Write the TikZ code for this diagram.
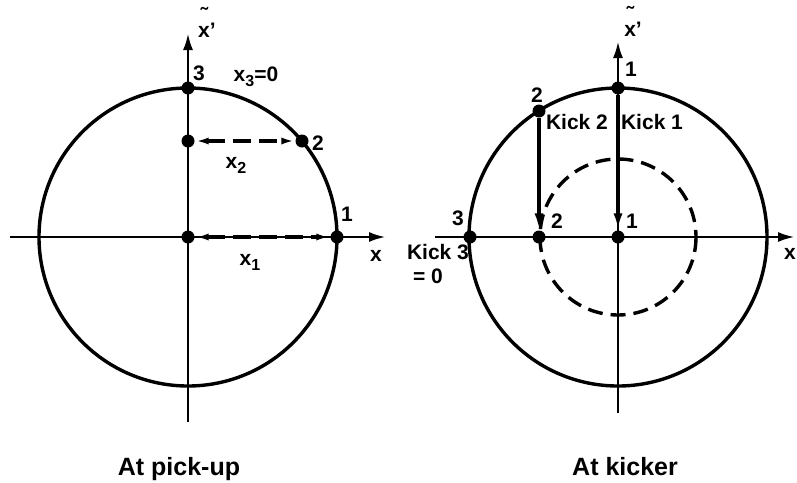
\documentclass[tikz,border=0pt]{standalone}
\usepackage{fontspec}
\setmainfont{Liberation Sans}
\usetikzlibrary{arrows.meta}
\newcommand\lowsub[1]{\raisebox{-5pt}{\fontsize{16}{16}\selectfont\bfseries #1}}
\newcommand\tildex{\shortstack{˜\\x}'}
\begin{document}
\begin{tikzpicture}[x=1pt,y=-1pt,
  dot/.style={circle,fill=black,inner sep=0pt,minimum size=13pt},
  lbl/.style={font=\fontsize{21}{21}\selectfont\bfseries,inner sep=0pt},
  caption/.style={font=\fontsize{25}{25}\selectfont\bfseries,inner sep=0pt,anchor=base},
  axis/.style={line width=2.8pt,-{Latex[length=17pt,width=10pt]}},
  ring/.style={line width=3.4pt},
  dring/.style={line width=3.4pt,dash pattern=on 15pt off 8pt},
  kick/.style={line width=3.4pt,-{Latex[length=17pt,width=9pt]}},
  meas/.style={line width=3.4pt,dash pattern=on 18pt off 8pt,
    {Latex[length=14pt,width=7pt]}-{Latex[length=14pt,width=7pt]}},
]
\useasboundingbox (0,0) rectangle (797,482);
% ---------- left: at pick-up ----------
\coordinate (LO) at (188,237);
\draw[ring] (LO) circle (149);
\coordinate (Lxs) at (10,237);
\coordinate (Lxe) at (386,237);
\coordinate (Lys) at (188,422);
\coordinate (Lye) at (188,33);
\draw[axis] (Lxs) -- (Lxe);
\draw[axis] (Lys) -- (Lye);
\node[dot] (L0) at (188,237) {};
\node[dot] (L1) at (337,237) {};
\node[dot] (L3) at (188,88) {};
\node[dot] (L2) at (302,141) {};
\node[dot] (L2a) at (188,141) {};
\draw[meas] (L0) -- (L1);
\draw[meas] (L2a) -- (L2);
\node[lbl,anchor=base] (lxl) at (207,37) {\tildex};
\node[lbl] (l3) at (199,73) {3};
\node[lbl] (lx3) at (256,77) {x\lowsub{3}=0};
\node[lbl] (l2) at (318,143) {2};
\node[lbl] (lx2) at (236,165) {x\lowsub{2}};
\node[lbl] (l1) at (347,214) {1};
\node[lbl] (lx) at (376,256) {x};
\node[lbl] (lx1) at (250,262) {x\lowsub{1}};
\node[caption] (capL) at (179,475) {At pick-up};
% ---------- right: at kicker ----------
\coordinate (RO) at (618,237);
\draw[ring] (RO) circle (149);
\draw[dring] (RO) circle (78);
\coordinate (Rxs) at (435,237);
\coordinate (Rxe) at (795,237);
\coordinate (Rys) at (618,413);
\coordinate (Rye) at (618,41);
\draw[axis] (Rxs) -- (Rxe);
\draw[axis] (Rys) -- (Rye);
\node[dot] (R1) at (618,88) {};
\node[dot] (R2) at (539,111) {};
\node[dot] (R3) at (470,237) {};
\node[dot] (R1b) at (618,237) {};
\node[dot] (R2b) at (539,237) {};
\draw[kick] (R1) -- (R1b);
\draw[kick] (R2) -- (R2b);
\node[lbl,anchor=base] (rxl) at (633,36) {\tildex};
\node[lbl] (r1) at (631,69) {1};
\node[lbl] (r2) at (537,95) {2};
\node[lbl] (rk2) at (577,122) {Kick 2};
\node[lbl] (rk1) at (652,122) {Kick 1};
\node[lbl] (r3) at (458,218) {3};
\node[lbl] (rk3) at (438,252) {Kick 3};
\node[lbl] (rk3b) at (428,276) {= 0};
\node[lbl] (r2b) at (557,221) {2};
\node[lbl] (r1b) at (632,221) {1};
\node[lbl] (rx) at (790,254) {x};
\node[caption] (capR) at (625,475) {At kicker};
\end{tikzpicture}
\end{document}
